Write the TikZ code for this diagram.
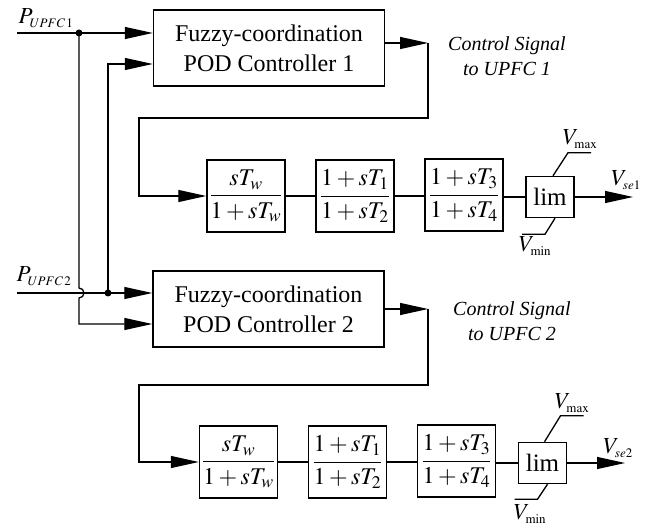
\documentclass[tikz,border=0pt]{standalone}
\usepackage{amsmath,mathptmx}
\usepackage[no-math]{fontspec}
\setmainfont{Liberation Serif}
\usetikzlibrary{arrows.meta,calc}
\DeclareMathSizes{23}{23}{13}{10}

\begin{document}
\begin{tikzpicture}[x=1pt,y=-1pt,>={Triangle[length=28pt,width=12pt]},
  wire/.style={line width=1.3pt},
  blk/.style={draw,line width=1.5pt,inner sep=2pt},
  fuzzy/.style={blk,minimum width=231pt,minimum height=76pt,align=center,font=\fontsize{24}{30}\selectfont},
  tf/.style={blk,minimum width=78pt,minimum height=72pt,font=\fontsize{24}{28}\selectfont},
  limbox/.style={blk,minimum width=48pt,minimum height=41pt,font=\fontsize{25}{28}\selectfont},
  sig/.style={align=center,font=\fontsize{20}{25}\selectfont\itshape},
  lbl/.style={inner sep=0pt,font=\fontsize{23}{26}\selectfont}]
\useasboundingbox (0,0) rectangle (658,526);
\node[fuzzy] (fuzzy1) at (269,48) {Fuzzy-coordination\\POD Controller 1};
\node[fuzzy] (fuzzy2) at (268.5,309) {Fuzzy-coordination\\POD Controller 2};
\node[sig] (sig1) at (507,56) {Control Signal\\to UPFC 1};
\node[sig] (sig2) at (512,321) {Control Signal\\to UPFC 2};
\node[tf] (wo1) at (246,196) {$\dfrac{sT_w}{1+sT_w}$};
\node[tf] (lead1) at (355,196) {$\dfrac{1+sT_1}{1+sT_2}$};
\node[tf] (lag1) at (464,195) {$\dfrac{1+sT_3}{1+sT_4}$};
\node[limbox] (lim1) at (550,197) {lim};
\node[tf] (wo2) at (238.5,462) {$\dfrac{sT_w}{1+sT_w}$};
\node[tf] (lead2) at (347.5,462) {$\dfrac{1+sT_1}{1+sT_2}$};
\node[tf] (lag2) at (456.5,461) {$\dfrac{1+sT_3}{1+sT_4}$};
\node[limbox] (lim2) at (542.5,463) {lim};
\node[lbl] (lblP1) at (46,18) {$P_{UPFC\,1}$};
\node[lbl] (lblP2) at (44,276) {$P_{UPFC\,2}$};
\node[lbl] (vmax1) at (580,139) {$V_{\max}$};
\node[lbl] (vmin1) at (535,246) {$V_{\min}$};
\node[lbl] (vse1) at (626,180) {$V_{se1}$};
\node[lbl] (vmax2) at (572,403) {$V_{\max}$};
\node[lbl] (vmin2) at (530,514) {$V_{\min}$};
\node[lbl] (vse2) at (618,448) {$V_{se2}$};
\coordinate (p1in) at (17,33);
\coordinate (j1) at (79,33);
\coordinate (p2in) at (17,293);
\coordinate (j2) at (108,293);
\coordinate (t1) at (108,64);
\coordinate (t2) at (79,324);
\coordinate (c1) at (428,43);
\coordinate (c2) at (428,309);
\coordinate (bend1) at (139,118);
\coordinate (bend2) at (139,385);
\coordinate (out1) at (633,197);
\coordinate (out2) at (625,463);
\draw[wire,->] (p1in) -- (p1in -| fuzzy1.west);
\draw[wire,->] (p2in) -- (p2in -| fuzzy2.west);
\draw[wire,->] (j2) -- (t1) -- (t1 -| fuzzy1.west);
\draw[wire,->] (j1) -- (79,288) arc[start angle=-90,end angle=90,radius=5] -- (t2) -- (t2 -| fuzzy2.west);
\fill (j1) circle (3.5pt);
\fill (j2) circle (3.5pt);
\draw[wire,->] ([yshift=5pt]fuzzy1.east) -- (c1);
\draw[wire,->] (c1) |- (bend1) |- (wo1.west);
\draw[wire] (wo1) -- (lead1);
\draw[wire] (lead1.east) -- (lead1.east -| lag1.west);
\draw[wire] (lag1.east |- lim1) -- (lim1.west);
\draw[wire,->] (lim1) -- (out1);
\draw[wire] ([xshift=3pt]lim1.north) -- ++(15,-23) -- ++(23,0);
\draw[wire] ([xshift=5pt]lim1.south) -- ++(-10,16) -- ++(-23,0);
\draw[wire,->] (fuzzy2.east) -- (c2);
\draw[wire,->] (c2) |- (bend2) |- (wo2.west);
\draw[wire] (wo2) -- (lead2);
\draw[wire] (lead2) -- (lag2.west |- lead2);
\draw[wire] (lag2.east |- lim2) -- (lim2.west);
\draw[wire,->] (lim2) -- (out2);
\draw[wire] ([xshift=2pt]lim2.north) -- ++(16,-26) -- ++(23,0);
\draw[wire] ([xshift=5pt]lim2.south) -- ++(-10,15) -- ++(-23,0);
\end{tikzpicture}
\end{document}
